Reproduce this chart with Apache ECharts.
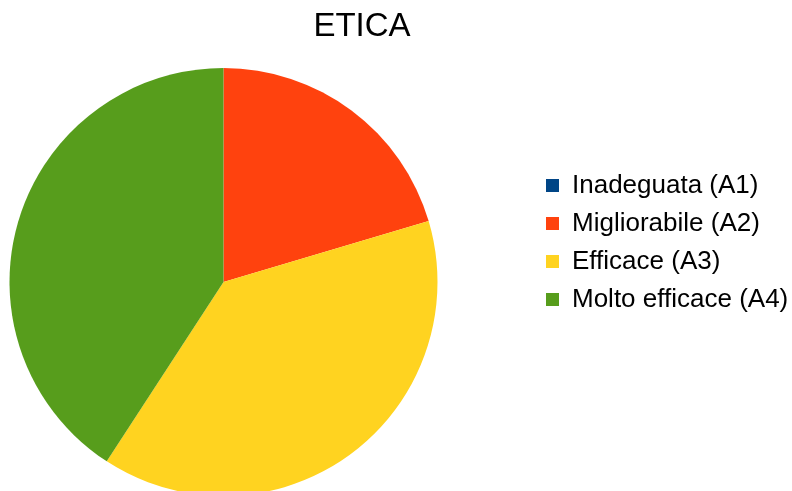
<!DOCTYPE html>
<html>
<head>
    <meta charset="utf-8"/>
    <style>
        html, body {
            height: 100%;
            margin: 0;
            padding: 0;
            background: #ffffff;
        }

        .container {
            width: 792px;
            height: 491px;
        }
    </style>
</head>
<body>
<div id="main" class="container"></div>
<script src="https://cdn.jsdelivr.net/npm/echarts@6/dist/echarts.min.js"></script>
<script type="text/javascript">
    // dati del grafico
    var titleText = 'ETICA';
    var categories = ['Inadeguata (A1)', 'Migliorabile (A2)', 'Efficace (A3)', 'Molto efficace (A4)'];
    var values = [0, 10, 19, 20];
    var colors = ['#004586', '#ff420e', '#ffd320', '#579d1c'];

    var myChart = echarts.init(document.getElementById('main'));
    var fontName = '"Liberation Sans", Arial, sans-serif';

    var pieData = [];
    for (var i = 0; i < categories.length; i++) {
        pieData.push({
            name: categories[i],
            value: values[i],
            itemStyle: {color: colors[i]}
        });
    }

    var option = {
        animation: false,
        backgroundColor: '#ffffff',
        title: {
            text: titleText,
            left: 362,
            top: 10,
            textAlign: 'center',
            padding: 0,
            textStyle: {
                color: '#000000',
                fontFamily: fontName,
                fontWeight: 'normal',
                fontSize: 33
            }
        },
        legend: {
            orient: 'vertical',
            left: 546,
            top: 172,
            padding: 0,
            icon: 'rect',
            itemWidth: 13,
            itemHeight: 13,
            itemGap: 11,
            selectedMode: false,
            data: categories,
            textStyle: {
                color: '#000000',
                fontFamily: fontName,
                fontSize: 26,
                lineHeight: 27,
                padding: [0, 0, 0, 8]
            }
        },
        series: [
            {
                type: 'pie',
                center: [223.5, 282],
                radius: 214,
                startAngle: 90,
                clockwise: true,
                label: {show: false},
                labelLine: {show: false},
                emphasis: {disabled: true},
                itemStyle: {borderWidth: 0},
                data: pieData
            }
        ]
    };

    myChart.setOption(option);
</script>
</body>
</html>
